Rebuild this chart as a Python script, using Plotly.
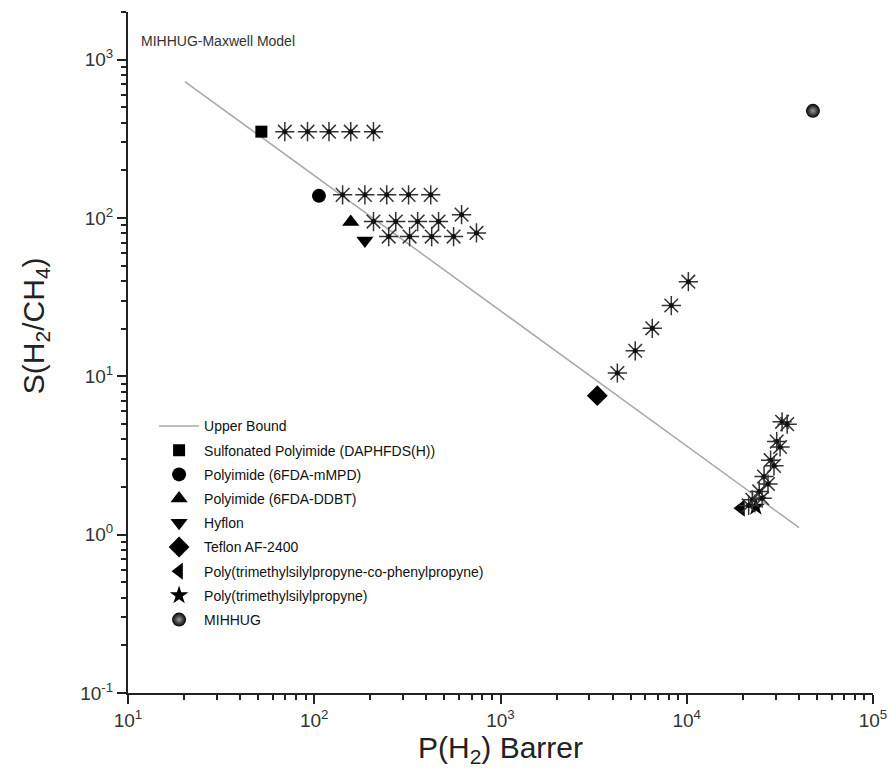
import plotly.graph_objects as go

# ---------------- data ----------------
ub_x = [20.2, 40100]
ub_y = [727, 1.107]

sp_x = [52];     sp_y = [351]          # Sulfonated Polyimide (DAPHFDS(H))
pm_x = [106];    pm_y = [138]          # Polyimide (6FDA-mMPD)
pd_x = [157];    pd_y = [94.5]         # Polyimide (6FDA-DDBT)
hy_x = [187];    hy_y = [72]           # Hyflon
tf_x = [3310];   tf_y = [7.55]         # Teflon AF-2400
pc_x = [19550];  pc_y = [1.47]         # Poly(trimethylsilylpropyne-co-phenylpropyne)
pt_x = [23500];  pt_y = [1.50]         # Poly(trimethylsilylpropyne)
mi_x = [47600];  mi_y = [475]          # MIHHUG

# MIHHUG-Maxwell model predictions (asterisks)
m1_x = [69.5, 92, 120, 157, 208];   m1_y = [351, 351, 351, 351, 351]
m2_x = [142, 187, 245, 321, 422];   m2_y = [140, 140, 140, 140, 140]
m3_x = [208, 274, 359, 465, 618];   m3_y = [94.9, 94.9, 94.9, 94.9, 105]
m4_x = [251, 325, 427, 560, 743];   m4_y = [76.3, 76.3, 76.3, 76.3, 80.5]
m5_x = [4240, 5290, 6530, 8260, 10200]; m5_y = [10.5, 14.5, 20.1, 28.0, 39.6]
m6_x = [22500, 24500, 26000, 28200, 30400, 32500]; m6_y = [1.66, 1.875, 2.33, 2.955, 3.87, 5.16]
m7_x = [21500, 25400, 27300, 29400, 31700, 34600]; m7_y = [1.53, 1.70, 2.09, 2.72, 3.58, 4.99]

x_tickvals = [10, 100, 1000, 10000, 100000]
x_ticktext = ["10<sup>1</sup>", "10<sup>2</sup>", "10<sup>3</sup>", "10<sup>4</sup>", "10<sup>5</sup>"]
y_tickvals = [0.1, 1, 10, 100, 1000]
y_ticktext = ["10<sup>-1</sup>", "10<sup>0</sup>", "10<sup>1</sup>", "10<sup>2</sup>", "10<sup>3</sup>"]

x_minor = [m * 10 ** k for k in range(1, 5) for m in range(2, 10)]
y_minor = [m * 10 ** k for k in range(-1, 4) for m in range(2, 10)]

FONT = "Liberation Sans, Arial, sans-serif"
INK = "#222222"

fig = go.Figure()

fig.add_trace(go.Scatter(x=ub_x, y=ub_y, mode="lines", name="Upper Bound", legendgroup="g0",
                         line=dict(color="#a8a8a8", width=1.5)))

def pt(x, y, name, symbol, size, grp, **kw):
    fig.add_trace(go.Scatter(x=x, y=y, mode="markers", name=name, legendgroup=grp,
                             marker=dict(symbol=symbol, size=size, color="black",
                                         line=dict(width=0), **kw)))

pt(sp_x, sp_y, "Sulfonated Polyimide (DAPHFDS(H))", "square", 12, "g1")
pt(pm_x, pm_y, "Polyimide (6FDA-mMPD)", "circle", 14, "g2")
pt(pd_x, pd_y, "Polyimide (6FDA-DDBT)", "triangle-up", 15, "g3")
pt(hy_x, hy_y, "Hyflon", "triangle-down", 15, "g4")
pt(tf_x, tf_y, "Teflon AF-2400", "diamond", 16, "g5")
pt(pc_x, pc_y, "Poly(trimethylsilylpropyne-co-phenylpropyne)", "triangle-left", 15, "g6")
pt(pt_x, pt_y, "Poly(trimethylsilylpropyne)", "star", 14, "g7")
fig.add_trace(go.Scatter(x=mi_x, y=mi_y, mode="markers", name="MIHHUG", legendgroup="g8",
                         marker=dict(symbol="circle", size=14, color="black",
                                     gradient=dict(type="radial", color="#9a9a9a"),
                                     line=dict(width=0))))

for xs, ys in [(m1_x, m1_y), (m2_x, m2_y), (m3_x, m3_y), (m4_x, m4_y),
               (m5_x, m5_y), (m6_x, m6_y), (m7_x, m7_y)]:
    fig.add_trace(go.Scatter(x=xs, y=ys, mode="markers", showlegend=False,
                             marker=dict(symbol="asterisk-open", size=16, color="#333333",
                                         line=dict(color="#333333", width=1.5))))
    fig.add_trace(go.Scatter(x=xs, y=ys, mode="markers", showlegend=False,
                             marker=dict(symbol="circle", size=5, color="#111111",
                                         line=dict(width=0))))

axis_common = dict(type="log", showgrid=False, zeroline=False, showline=True,
                   linecolor=INK, linewidth=2, ticks="outside", ticklen=9,
                   tickwidth=2, tickcolor=INK, mirror=False, automargin=False,
                   tickfont=dict(family=FONT, size=19, color="#333333"))

fig.update_xaxes(**axis_common, range=[1, 5], tickmode="array",
                 tickvals=x_tickvals, ticktext=x_ticktext,
                 minor=dict(ticks="outside", ticklen=5, tickwidth=1.5, tickcolor=INK,
                            tickmode="array", tickvals=x_minor),
                 title=dict(text="P(H<sub>2</sub>) Barrer", standoff=6,
                            font=dict(family=FONT, size=30, color="#222222")))
fig.update_yaxes(**axis_common, range=[-1, 3.30103], tickmode="array",
                 tickvals=y_tickvals, ticktext=y_ticktext,
                 minor=dict(ticks="outside", ticklen=5, tickwidth=1.5, tickcolor=INK,
                            tickmode="array", tickvals=y_minor))

fig.add_annotation(text="S(H<sub>2</sub>/CH<sub>4</sub>)", xref="paper", yref="paper",
                   x=-0.125, y=0.54, xanchor="center", yanchor="middle", textangle=-90,
                   showarrow=False, font=dict(family=FONT, size=30, color="#222222"))

fig.add_annotation(text="MIHHUG-Maxwell Model", xref="paper", yref="paper",
                   x=0.015, y=0.957, xanchor="left", yanchor="middle", showarrow=False,
                   font=dict(family=FONT, size=14, color="#333333"))

fig.update_layout(
    width=893, height=768,
    margin=dict(l=128, r=20, t=12, b=75),
    paper_bgcolor="white", plot_bgcolor="white",
    font=dict(family=FONT, color="#222222"),
    showlegend=True,
    legend=dict(x=0.035, y=0.415, xanchor="left", yanchor="top",
                bgcolor="rgba(0,0,0,0)", borderwidth=0, itemwidth=40,
                font=dict(family=FONT, size=14, color="#111111"),
                tracegroupgap=3),
)

fig.write_html("out.html")
